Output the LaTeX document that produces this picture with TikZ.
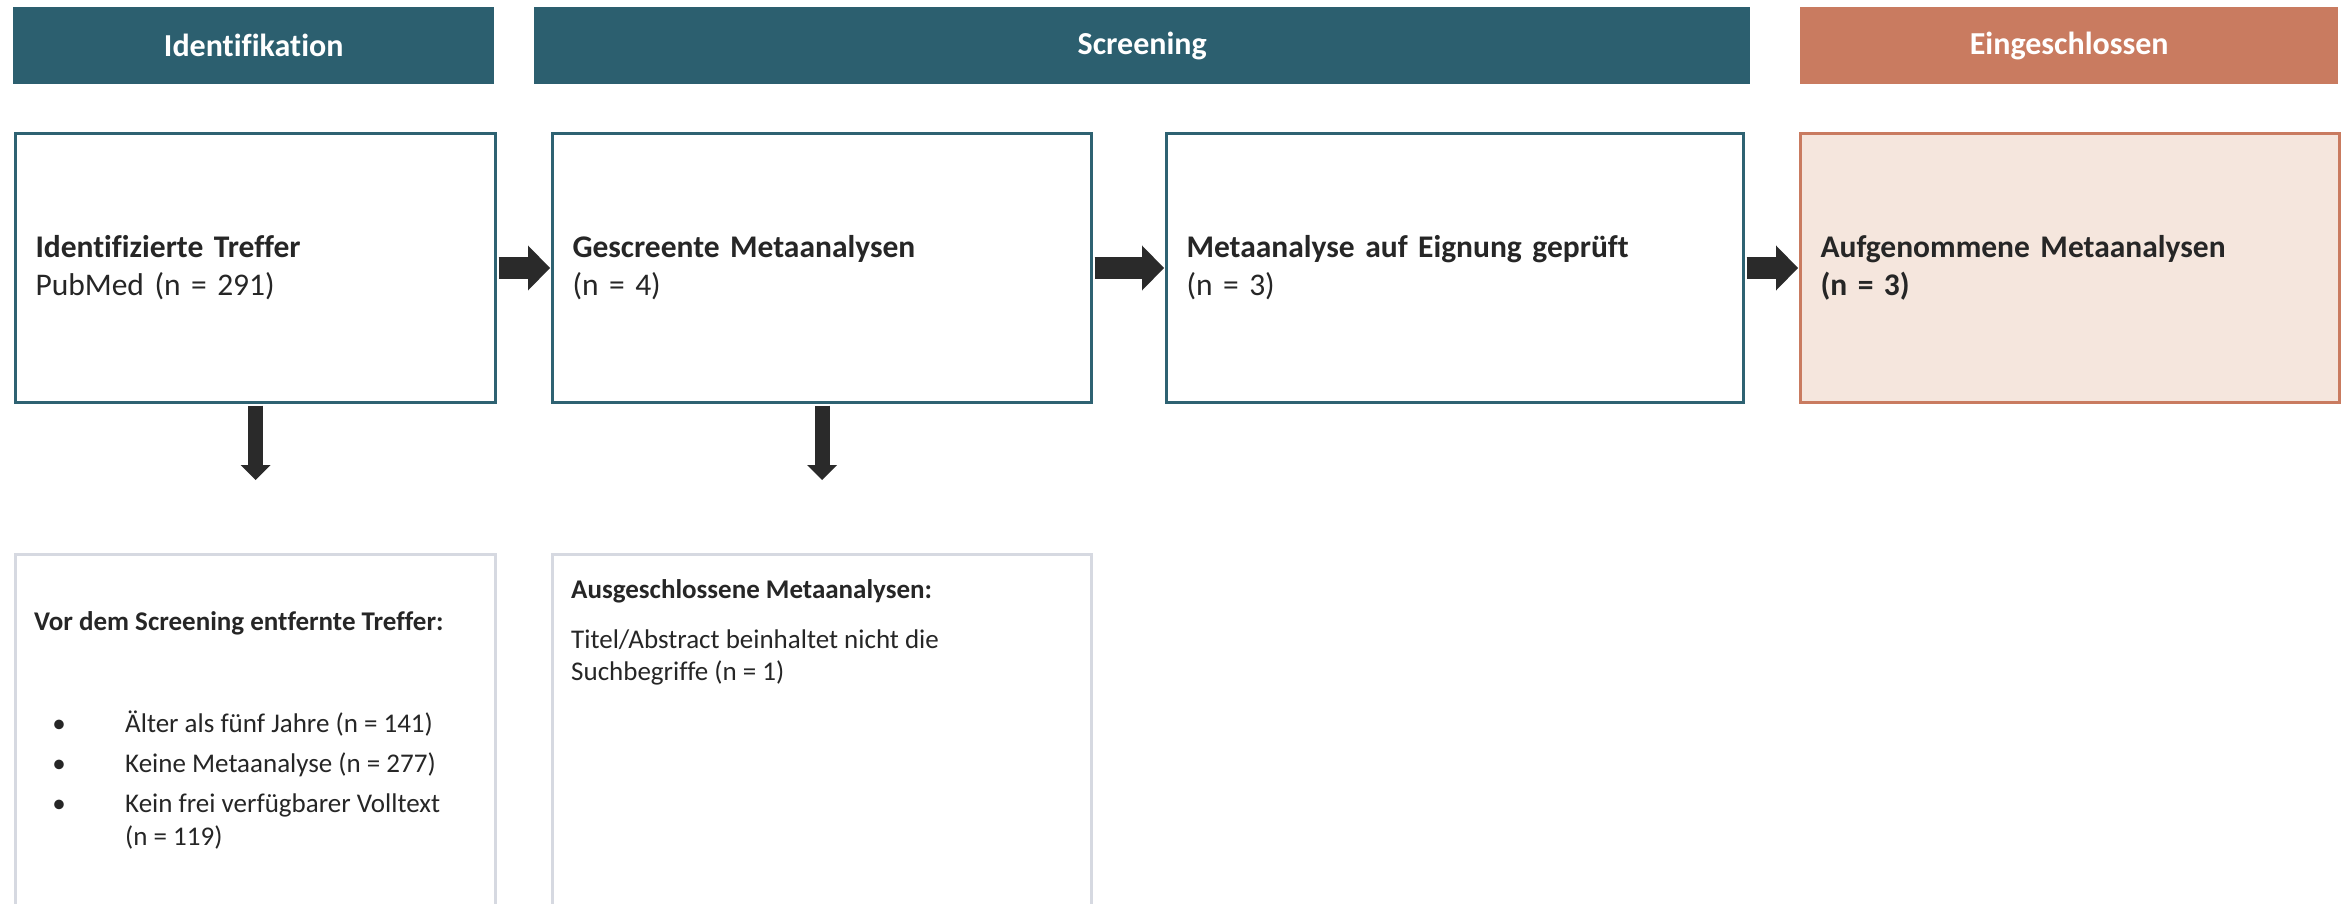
\documentclass[tikz,border=0pt]{standalone}
\usepackage{fontspec}
\setmainfont{Carlito}[Ligatures=NoCommon]
\usetikzlibrary{arrows.meta,calc}
\definecolor{tealc}{HTML}{2C5F6F}
\definecolor{boxteal}{HTML}{2E6272}
\definecolor{orangec}{HTML}{C97B60}
\definecolor{peach}{HTML}{F5E6DD}
\definecolor{arrowc}{HTML}{2A2A2A}
\definecolor{txt}{HTML}{262626}
\definecolor{grayc}{HTML}{D6D9E1}
\begin{document}
\begin{tikzpicture}[x=1pt,y=-1pt,
  hdr/.style={anchor=north west, inner sep=0pt, fill=tealc, text=white,
    font=\fontsize{32}{38}\selectfont\bfseries, minimum height=77pt},
  box/.style={anchor=north west, draw=boxteal, line width=3pt, fill=white,
    minimum height=269pt, align=left, inner xsep=20pt, inner ysep=0pt, text=txt,
    font=\fontsize{31.5}{38}\selectfont},
  ebox/.style={anchor=north west, draw=grayc, line width=2.5pt, fill=white,
    minimum height=420pt, inner sep=0pt},
  etext/.style={anchor=base west, inner sep=0pt, text=txt,
    font=\fontsize{27}{32}\selectfont},
  ebold/.style={etext, font=\fontsize{27}{32}\selectfont\bfseries},
  bul/.style={anchor=base, inner sep=0pt, text=txt, font=\fontsize{27}{32}\selectfont},
  harrow/.style={draw=arrowc, line width=22pt, shorten <=1.5pt, shorten >=1pt,
    -{Triangle[length=22pt, width=45pt, line width=0pt]}},
  varrow/.style={draw=arrowc, line width=15pt, shorten <=1.5pt,
    -{Triangle[length=15pt, width=30pt, line width=0pt]}}
]
\clip (0,0) rectangle (2346,904);
\fill[white] (0,0) rectangle (2346,904);

% headers
\node[hdr, minimum width=481pt] (h1) at (13,7) {Identifikation};
\node[hdr, minimum width=1216pt] (h2) at (534,7) {Screening};
\node[hdr, fill=orangec, minimum width=538pt] (h3) at (1800,7) {Eingeschlossen};

% main boxes
\node[box, minimum width=480pt, text width=440pt] (b1) at (14,132)
  {\textbf{Identifizierte Treffer}\\PubMed (n = 291)};
\node[box, minimum width=539pt, text width=499pt] (b2) at (551,132)
  {\textbf{Gescreente Metaanalysen}\\(n = 4)};
\node[box, minimum width=577pt, text width=537pt] (b3) at (1165,132)
  {\textbf{Metaanalyse auf Eignung geprüft}\\(n = 3)};
\node[box, draw=orangec, fill=peach, minimum width=539pt, text width=499pt] (b4) at (1799,132)
  {\textbf{Aufgenommene Metaanalysen}\\\textbf{(n = 3)}};

% exclusion boxes
\node[ebox, minimum width=480pt] (e1) at (14,553) {};
\node[ebox, minimum width=539pt] (e2) at (551,553) {};

\node[ebold] (e1t) at (34,630) {Vor dem Screening entfernte Treffer:};
\node[bul] (u1) at (59,732) {\textbullet};
\node[bul] (u2) at (59,772) {\textbullet};
\node[bul] (u3) at (59,812) {\textbullet};
\node[etext] (i1) at (125,732) {Älter als fünf Jahre (n = 141)};
\node[etext] (i2) at (125,772) {Keine Metaanalyse (n = 277)};
\node[etext] (i3a) at (125,812) {Kein frei verfügbarer Volltext};
\node[etext] (i3b) at (125,845) {(n = 119)};

\node[ebold] (e2t) at (571,598) {Ausgeschlossene Metaanalysen:};
\node[etext] (e2a) at (571,648) {Titel/Abstract beinhaltet nicht die};
\node[etext] (e2b) at (571,680) {Suchbegriffe (n = 1)};

% arrows
\draw[harrow] (b1.east) -- (b2.west);
\draw[harrow] (b2.east) -- (b3.west);
\draw[harrow] (b3.east) -- (b4.west);
\coordinate (d1) at ($(b1.south)+(0,76)$);
\coordinate (d2) at ($(b2.south)+(0,76)$);
\draw[varrow] (b1.south) -- (d1);
\draw[varrow] (b2.south) -- (d2);
\end{tikzpicture}
\end{document}
